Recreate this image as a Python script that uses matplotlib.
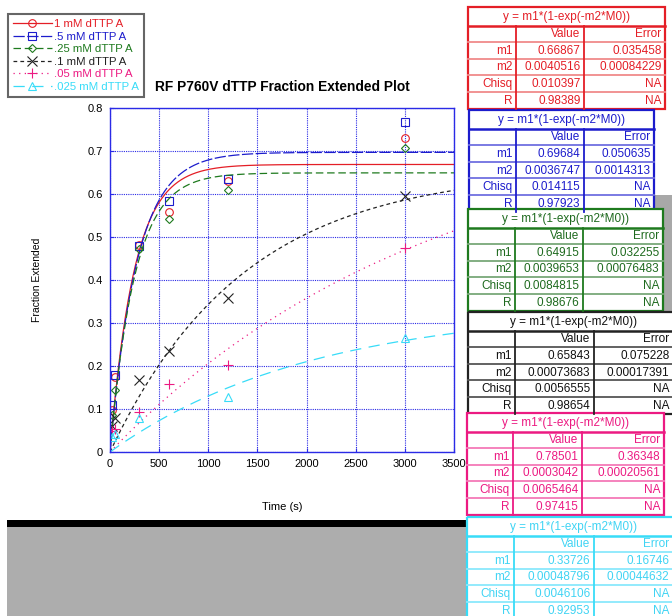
import numpy as np
import matplotlib
matplotlib.use("Agg")
import matplotlib.pyplot as plt
from matplotlib.lines import Line2D
from matplotlib.patches import Rectangle

plt.rcParams['font.family'] = ['Liberation Sans', 'DejaVu Sans']

# measured time points (s)
times = [25, 50, 300, 600, 1200, 3000]
# fraction extended for each dTTP concentration
frac_1mM = [0.098, 0.174, 0.481, 0.558, 0.630, 0.730]
frac_05mM = [0.110, 0.178, 0.478, 0.584, 0.635, 0.767]
frac_025mM = [0.087, 0.145, 0.472, 0.543, 0.609, 0.706]
frac_01mM = [0.060, 0.078, 0.167, 0.234, 0.358, 0.595]
frac_005mM = [0.048, 0.053, 0.094, 0.158, 0.202, 0.475]
frac_0025mM = [0.036, 0.042, 0.080, np.nan, 0.128, 0.265]
labels = ["1 mM dTTP A", ".5 mM dTTP A", ".25 mM dTTP A",
          ".1 mM dTTP A", ".05 mM dTTP A", ".025 mM dTTP A"]

# fit results y = m1*(1-exp(-m2*M0))
fit_m1 = ["0.66867", "0.69684", "0.64915", "0.65843", "0.78501", "0.33726"]
fit_m1_err = ["0.035458", "0.050635", "0.032255", "0.075228", "0.36348", "0.16746"]
fit_m2 = ["0.0040516", "0.0036747", "0.0039653", "0.00073683", "0.0003042", "0.00048796"]
fit_m2_err = ["0.00084229", "0.0014313", "0.00076483", "0.00017391", "0.00020561", "0.00044632"]
fit_chisq = ["0.010397", "0.014115", "0.0084815", "0.0056555", "0.0065464", "0.0046106"]
fit_r = ["0.98389", "0.97923", "0.98676", "0.98654", "0.97415", "0.92953"]

series = [frac_1mM, frac_05mM, frac_025mM, frac_01mM, frac_005mM, frac_0025mM]
colors = ['#e41e26', '#1c1ccc', '#1e7a1e', '#222222', '#ec1a82', '#38dcf8']
inner_colors = ['#f08a8a', '#7070e0', '#78a878', '#555555', '#f47ab8', '#8ae8fc']
text_colors = ['#e41e26', '#1c1ccc', '#1e6a1e', '#111111', '#ec1a82', '#40d4f4']
markers = ['o', 's', 'D', 'x', '+', '^']
msizes = [5.5, 5.5, 4.5, 6.5, 7.5, 5.5]
dashes = [None, (9, 2), (6, 3), (3, 2.5), (1, 3.5), (9, 6)]

fig = plt.figure(figsize=(6.72, 6.16), dpi=100)

# overlay in pixel coords for the background and the tables
ov = fig.add_axes([0, 0, 1, 1], zorder=-1)
ov.set_xlim(0, 672)
ov.set_ylim(616, 0)
ov.axis('off')
ov.add_patch(Rectangle((7, 527), 459, 95, color='#adadad', lw=0))
ov.add_patch(Rectangle((7, 520), 459, 7, color='black', lw=0))
ov.add_patch(Rectangle((655, 195), 20, 120, color='#a8a8a8', lw=0))

ax = fig.add_axes([110 / 672, 1 - 452 / 616, 344 / 672, 344 / 616])
tt = np.linspace(0, 3500, 400)
handles = []
for i in range(6):
    m1 = float(fit_m1[i])
    m2 = float(fit_m2[i])
    ln, = ax.plot(tt, m1 * (1 - np.exp(-m2 * tt)), color=colors[i], lw=0.9)
    if dashes[i] is not None:
        ln.set_dashes(dashes[i])
    ax.plot(times, series[i], linestyle='none', marker=markers[i], ms=msizes[i],
            mfc='none', mec=colors[i], mew=0.8)
    h = Line2D([], [], color=colors[i], lw=0.9, marker=markers[i], ms=msizes[i],
               mfc='none', mec=colors[i], mew=0.8)
    if dashes[i] is not None:
        h.set_dashes(dashes[i])
    handles.append(h)

ax.set_xlim(0, 3500)
ax.set_ylim(0, 0.8)
ax.set_xticks(np.arange(0, 3501, 500))
ax.set_yticks(np.arange(0, 0.81, 0.1))
ax.set_yticklabels(['0'] + ['%.1f' % v for v in np.arange(0.1, 0.81, 0.1)])
ax.grid(True, color='#2a2ae6', linestyle=(0, (1, 1)), lw=0.8)
for s in ax.spines.values():
    s.set_color('#2a2ae6')
    s.set_linewidth(1.0)
ax.tick_params(direction='in', length=3, color='#2a2ae6', labelsize=8, pad=5)
ax.set_title("RF P760V dTTP Fraction Extended Plot", fontsize=9.9,
             fontweight='bold', pad=12)
ax.set_xlabel("Time (s)", fontsize=8, labelpad=24)
ax.set_ylabel("Fraction Extended", fontsize=7.5, labelpad=33)

leg = fig.legend(handles, labels, loc='upper left',
                 bbox_to_anchor=(8 / 672, 1 - 14 / 616), borderaxespad=0,
                 fontsize=8.2, labelcolor='linecolor', handlelength=3.4,
                 handletextpad=0.2, labelspacing=0.22, borderpad=0.45,
                 fancybox=False, framealpha=1)
leg.get_frame().set_edgecolor('#666666')
leg.get_frame().set_linewidth(1.5)

# table geometry in pixels: top edge and column edges
table_tops = [7, 110, 209, 312, 413, 517]
table_cols = [[468, 516, 584, 665], [469, 516, 584, 654], [468, 515, 583, 663],
              [468, 515, 594, 680], [467, 513, 582, 664], [467, 514, 594, 680]]
head_h = 18.5
row_h = 16.6
edge = 673

for i in range(6):
    top = table_tops[i]
    c = table_cols[i]
    col = colors[i]
    tc = text_colors[i]
    bottom = top + head_h + 5 * row_h
    ov.add_patch(Rectangle((c[0], top), c[3] - c[0], bottom - top,
                           facecolor='white', edgecolor='none'))
    # inner grid
    for k in range(1, 5):
        y = top + head_h + k * row_h
        ov.plot([c[0], c[3]], [y, y], color=inner_colors[i], lw=1.3)
    for x in c[1:3]:
        ov.plot([x, x], [top + head_h, bottom], color=col, lw=1.3)
    ov.plot([c[0], c[3]], [top + head_h, top + head_h], color=col, lw=1.8)
    ov.add_patch(Rectangle((c[0], top), c[3] - c[0], bottom - top,
                           facecolor='none', edgecolor=col, lw=1.6))
    ov.text((c[0] + c[3]) / 2, top + head_h / 2 + 0.5, "y = m1*(1-exp(-m2*M0))",
            ha='center', va='center', fontsize=8.5, color=tc)
    rows = [["", "Value", "Error"],
            ["m1", fit_m1[i], fit_m1_err[i]],
            ["m2", fit_m2[i], fit_m2_err[i]],
            ["Chisq", fit_chisq[i], "NA"],
            ["R", fit_r[i], "NA"]]
    for r, row in enumerate(rows):
        yc = top + head_h + (r + 0.5) * row_h + 0.5
        for j in range(3):
            xr = min(c[j + 1], edge) - 3.5
            ov.text(xr, yc, row[j], ha='right', va='center',
                    fontsize=8.5, color=tc)

fig.savefig("out.png", dpi=100)
